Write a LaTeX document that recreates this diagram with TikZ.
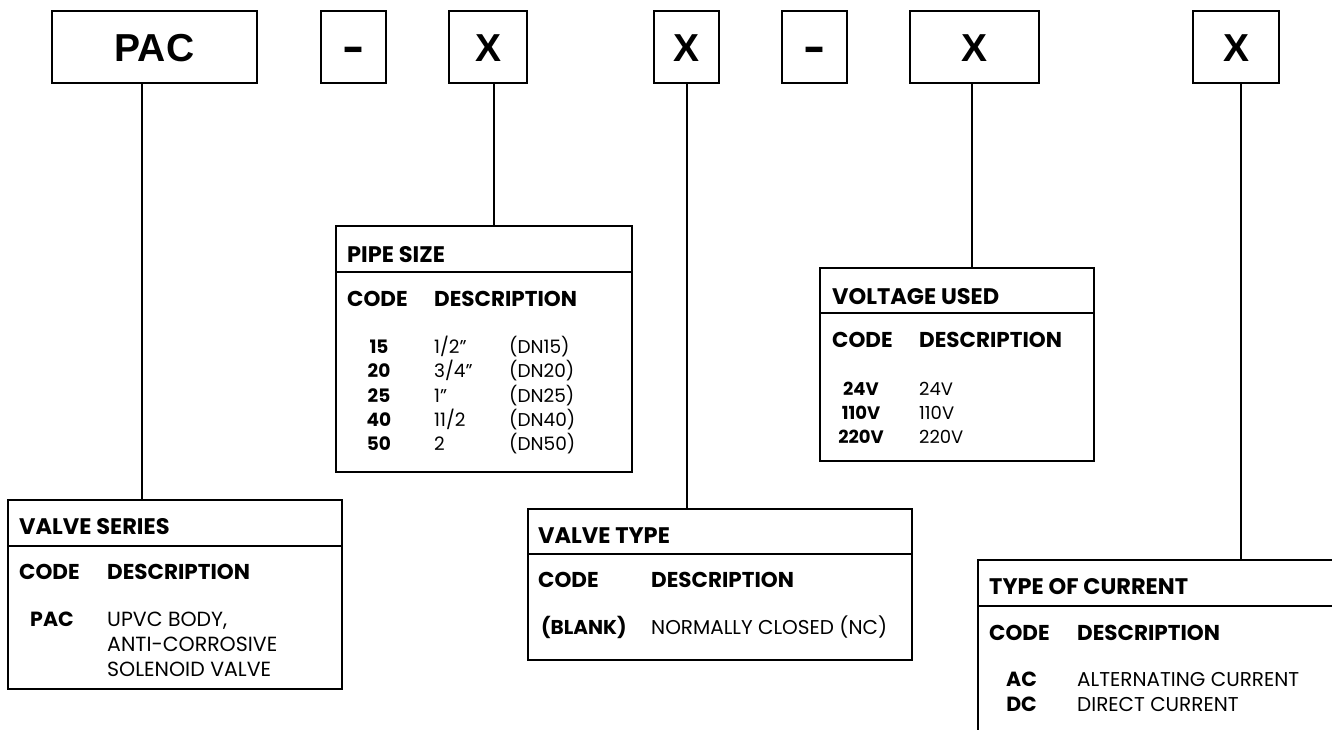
\documentclass[tikz,border=0pt]{standalone}
\usepackage{fontspec}
\setmainfont{Poppins}
\newfontfamily\boxfont{Liberation Sans}
\begin{document}
\begin{tikzpicture}[x=1pt,y=-1pt,
    codebox/.style={draw,line width=2pt,minimum height=72,text height=28,text depth=0,inner sep=0,
        font=\boxfont\fontsize{39}{39}\selectfont\bfseries},
    codetable/.style={draw,line width=2pt,anchor=north west,inner sep=0},
    conn/.style={line width=2pt},
    tabtitle/.style={anchor=base west,inner sep=0,font=\fontsize{22.5}{25}\selectfont\bfseries},
    head/.style={anchor=base west,inner sep=0,font=\fontsize{21.5}{25}\selectfont\bfseries},
    codecol/.style={anchor=base,inner sep=0,font=\fontsize{#1}{#1}\selectfont\bfseries},
    desccol/.style={anchor=base west,inner sep=0,font=\fontsize{#1}{#1}\selectfont}]
    \useasboundingbox (0,0) rectangle (1332,729);
    \clip (0,0) rectangle (1332,729);

    \node[codebox,minimum width=205] (pac) at (154.5,47) {PAC};
    \node[codebox,minimum width=65] (dasha) at (353.5,47) {\scalebox{1.7}[1.15]{-}};
    \node[codebox,minimum width=78] (xa) at (488,47) {X};
    \node[codebox,minimum width=65] (xb) at (686.5,47) {X};
    \node[codebox,minimum width=65] (dashb) at (814.5,47) {\scalebox{1.7}[1.15]{-}};
    \node[codebox,minimum width=129] (xc) at (974.5,47) {X};
    \node[codebox,minimum width=86] (xd) at (1236,47) {X};

    \node[codetable,minimum width=334,minimum height=189] (series) at (7,499) {};
    \draw[conn] ([yshift=-47]series.north west) -- ([yshift=-47]series.north east);
    \node[tabtitle] (seriest) at (19,534) {VALVE SERIES};
    \node[head] (seriesc) at (19,579) {CODE};
    \node[head] (seriesd) at (107,579) {DESCRIPTION};
    \node[codecol=20.5] (series1) at (52,626) {PAC};
    \node[desccol=20.5] (series1a) at (107,626) {UPVC BODY,};
    \node[desccol=20.5] (series1b) at (107,651) {ANTI-CORROSIVE};
    \node[desccol=20.5] (series1c) at (107,676) {SOLENOID VALVE};

    \node[codetable,minimum width=296,minimum height=246] (size) at (335,225) {};
    \draw[conn] ([yshift=-47]size.north west) -- ([yshift=-47]size.north east);
    \node[tabtitle] (sizet) at (347,262) {PIPE SIZE};
    \node[head] (sizec) at (347,306) {CODE};
    \node[head] (sized) at (434,306) {DESCRIPTION};
    \node[codecol=18.5] (size1) at (379,353) {15};
    \node[codecol=18.5] (size2) at (379,377) {20};
    \node[codecol=18.5] (size3) at (379,402) {25};
    \node[codecol=18.5] (size4) at (379,426) {40};
    \node[codecol=18.5] (size5) at (379,450) {50};
    \node[desccol=18.5] (size1a) at (434,353) {1/2”};
    \node[desccol=18.5] (size2a) at (434,377) {3/4”};
    \node[desccol=18.5] (size3a) at (434,402) {1”};
    \node[desccol=18.5] (size4a) at (434,426) {11/2};
    \node[desccol=18.5] (size5a) at (434,450) {2};
    \node[desccol=18.5] (size1b) at (509,353) {(DN15)};
    \node[desccol=18.5] (size2b) at (509,377) {(DN20)};
    \node[desccol=18.5] (size3b) at (509,402) {(DN25)};
    \node[desccol=18.5] (size4b) at (509,426) {(DN40)};
    \node[desccol=18.5] (size5b) at (509,450) {(DN50)};

    \node[codetable,minimum width=384,minimum height=151] (vtype) at (527,508) {};
    \draw[conn] ([yshift=-46]vtype.north west) -- ([yshift=-46]vtype.north east);
    \node[tabtitle] (vtypet) at (538,543) {VALVE TYPE};
    \node[head] (vtypec) at (538,587) {CODE};
    \node[head] (vtyped) at (651,587) {DESCRIPTION};
    \node[codecol=20,anchor=base west] (vtype1) at (541,634) {(BLANK)};
    \node[desccol=20] (vtype1a) at (651,634) {NORMALLY CLOSED (NC)};

    \node[codetable,minimum width=274,minimum height=193] (volt) at (819,267) {};
    \draw[conn] ([yshift=-46]volt.north west) -- ([yshift=-46]volt.north east);
    \node[tabtitle] (voltt) at (832,304) {VOLTAGE USED};
    \node[head] (voltc) at (832,347) {CODE};
    \node[head] (voltd) at (919,347) {DESCRIPTION};
    \node[codecol=18] (volt1) at (861,395) {24V};
    \node[codecol=18] (volt2) at (861,419) {110V};
    \node[codecol=18] (volt3) at (861,443) {220V};
    \node[desccol=18] (volt1a) at (919,395) {24V};
    \node[desccol=18] (volt2a) at (919,419) {110V};
    \node[desccol=18] (volt3a) at (919,443) {220V};

    \node[codetable,minimum width=380,minimum height=200] (curr) at (977,559) {};
    \draw[conn] ([yshift=-47]curr.north west) -- ([yshift=-47]curr.north east);
    \node[tabtitle] (currt) at (989,594) {TYPE OF CURRENT};
    \node[head] (currc) at (989,640) {CODE};
    \node[head] (currd) at (1077,640) {DESCRIPTION};
    \node[codecol=20.5] (curr1) at (1021.5,686) {AC};
    \node[codecol=20.5] (curr2) at (1021.5,711) {DC};
    \node[desccol=20] (curr1a) at (1077,686) {ALTERNATING CURRENT};
    \node[desccol=20] (curr2a) at (1077,711) {DIRECT CURRENT};

    \coordinate (pacfoot) at ([xshift=-12.5]pac.south);
    \coordinate (xafoot) at ([xshift=6]xa.south);
    \coordinate (xbfoot) at ([xshift=0.5]xb.south);
    \coordinate (xcfoot) at ([xshift=-2.5]xc.south);
    \coordinate (xdfoot) at ([xshift=5]xd.south);
    \draw[conn] (pacfoot) -- (pacfoot |- series.north);
    \draw[conn] (xafoot) -- (xafoot |- size.north);
    \draw[conn] (xbfoot) -- (xbfoot |- vtype.north);
    \draw[conn] (xcfoot) -- (xcfoot |- volt.north);
    \draw[conn] (xdfoot) -- (xdfoot |- curr.north);
\end{tikzpicture}
\end{document}
